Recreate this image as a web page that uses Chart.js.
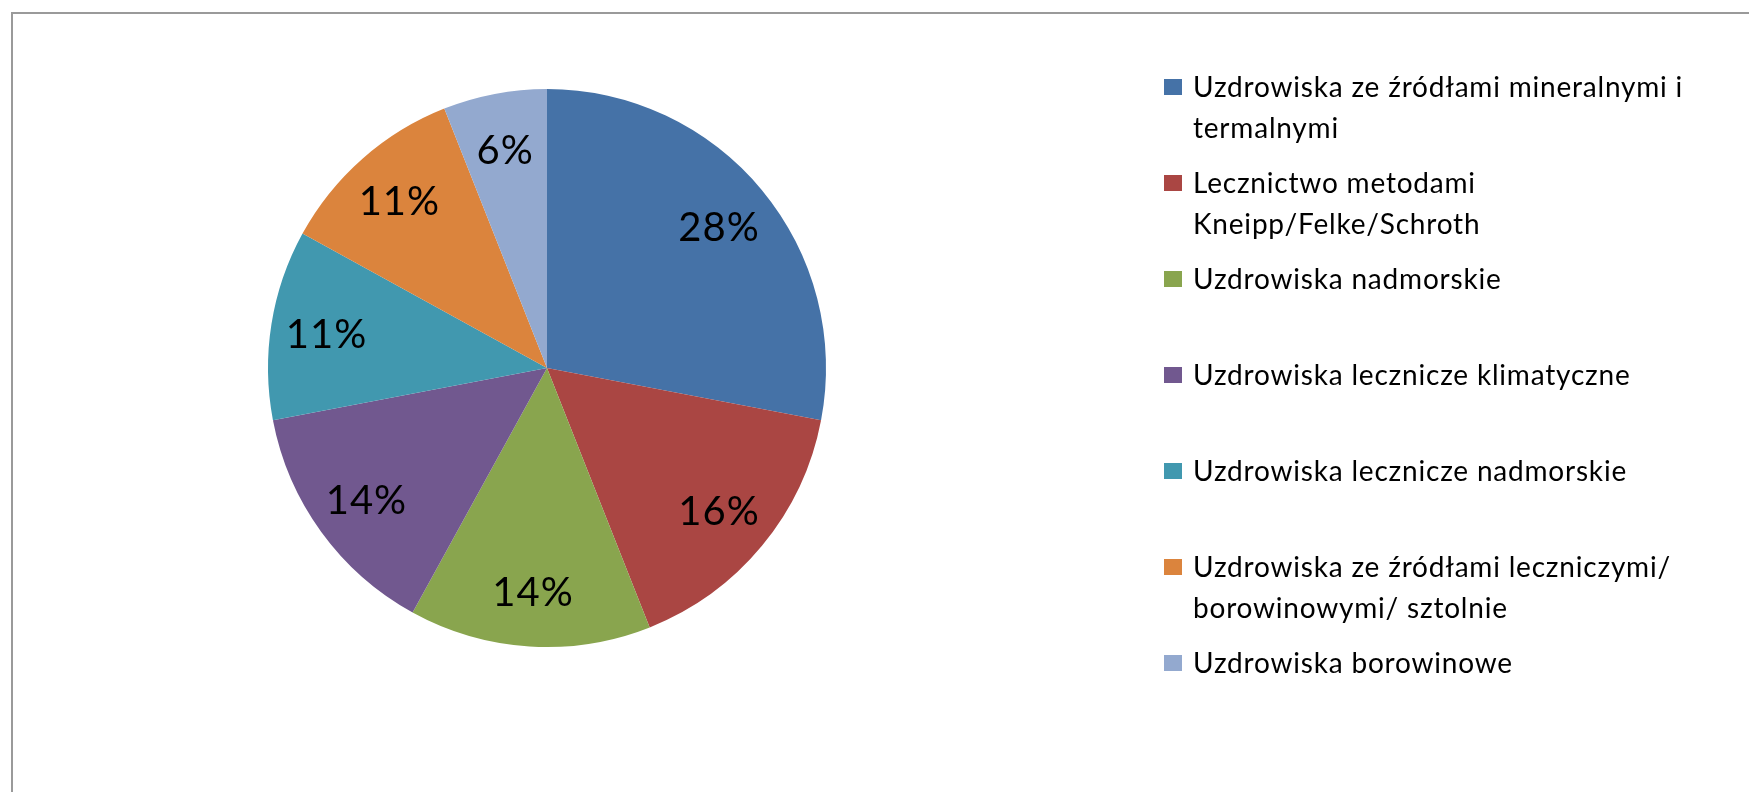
<!DOCTYPE html>
<html>
<head>
<meta charset="utf-8">
<script src="https://cdn.jsdelivr.net/npm/chart.js@4.4.1/dist/chart.umd.min.js"></script>
<style>
  body{margin:0;background:#fff;overflow:hidden}
  #frame{position:absolute;left:11px;top:12px;width:1800px;height:900px;border:2px solid #9a9a9a;box-sizing:border-box}
  #pie{position:absolute;left:0;top:0}
</style>
</head>
<body>
<div id="frame"></div>
<canvas id="pie" width="1749" height="792"></canvas>
<script>
// categories (each one split into the lines shown in the legend)
const LABELS = [
  ['Uzdrowiska ze źródłami mineralnymi i','termalnymi'],
  ['Lecznictwo metodami','Kneipp/Felke/Schroth'],
  ['Uzdrowiska nadmorskie'],
  ['Uzdrowiska lecznicze klimatyczne'],
  ['Uzdrowiska lecznicze nadmorskie'],
  ['Uzdrowiska ze źródłami leczniczymi/','borowinowymi/ sztolnie'],
  ['Uzdrowiska borowinowe']
];
// share in percent
const VALUES = [28,16,14,14,11,11,6];
const COLORS = ['#4572A7','#AA4643','#89A54E','#71588F','#4198AF','#DB843D','#93A9CF'];

const FONT = 'Lato, "Open Sans", sans-serif';

// percent text inside each slice
const pctLabels = {
  id:'pctLabels',
  afterDatasetsDraw(chart){
    const ctx = chart.ctx;
    const meta = chart.getDatasetMeta(0);
    ctx.save();
    ctx.font = '40px ' + FONT;
    ctx.letterSpacing = '1px';
    ctx.fillStyle = '#000';
    ctx.textAlign = 'center';
    ctx.textBaseline = 'middle';
    meta.data.forEach((arc,i)=>{
      const p = arc.getProps(['x','y','startAngle','endAngle','outerRadius'], true);
      const mid = (p.startAngle + p.endAngle)/2;
      const r = p.outerRadius*0.8;
      ctx.fillText(VALUES[i] + '%', p.x + Math.cos(mid)*r, p.y + Math.sin(mid)*r + 2);
    });
    ctx.restore();
  }
};

// legend on the right, drawn like the office one (square + wrapped lines)
const sideLegend = {
  id:'sideLegend',
  afterDraw(chart){
    const ctx = chart.ctx;
    const items = chart.options.plugins.legend.labels.generateLabels(chart);
    const x0 = chart.chartArea.right + 338, top0 = 79, step = 96, lineH = 41;
    ctx.save();
    ctx.font = '28px ' + FONT;
    ctx.letterSpacing = '0.8px';
    ctx.textBaseline = 'alphabetic';
    items.forEach((it,i)=>{
      const y = top0 + i*step;
      ctx.fillStyle = it.fillStyle;
      ctx.fillRect(x0, y, 18, 16);
      ctx.fillStyle = '#000';
      const lines = Array.isArray(it.text) ? it.text : [it.text];
      lines.forEach((t,j)=> ctx.fillText(t, x0 + 29, y + 18 + j*lineH));
    });
    ctx.restore();
  }
};

new Chart(document.getElementById('pie'), {
  type:'pie',
  data:{
    labels: LABELS,
    datasets:[{data: VALUES, backgroundColor: COLORS, borderWidth: 0, hoverOffset: 0}]
  },
  options:{
    responsive:false,
    animation:false,
    layout:{padding:{left:268, right:923, top:89, bottom:145}},
    plugins:{legend:{display:false}, tooltip:{enabled:false}}
  },
  plugins:[pctLabels, sideLegend]
});
</script>
</body>
</html>
